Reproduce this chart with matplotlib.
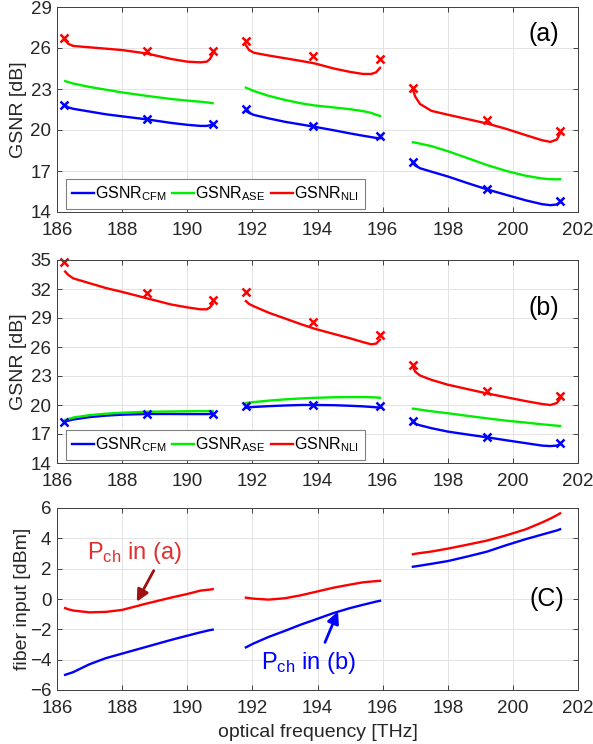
import numpy as np
import matplotlib
matplotlib.use("Agg")
import matplotlib.pyplot as plt

plt.rcParams["font.family"] = ["Liberation Sans", "DejaVu Sans"]

# frequency samples [THz] for the three bands
freq_s1 = [186.25, 186.35, 186.5, 187.0, 187.5, 188.0, 188.75, 189.5, 190.0, 190.4, 190.6, 190.7, 190.78]
freq_s2 = [191.8, 191.9, 192.05, 192.5, 193.0, 193.5, 193.9, 194.5, 195.0, 195.4, 195.65, 195.8, 195.92]
freq_s3 = [196.93, 197.0, 197.15, 197.5, 198.0, 198.6, 199.2, 199.8, 200.4, 200.9, 201.15, 201.35, 201.45]
FREQS = [freq_s1, freq_s2, freq_s3]

# panel (a) GSNR [dB]
a_cfm = [[21.8, 21.65, 21.55, 21.35, 21.15, 21.0, 20.78, 20.52, 20.38, 20.3, 20.3, 20.35, 20.43],
         [21.4, 21.25, 21.1, 20.85, 20.6, 20.4, 20.24, 19.98, 19.75, 19.58, 19.48, 19.42, 19.4],
         [17.6, 17.4, 17.2, 16.95, 16.6, 16.12, 15.66, 15.25, 14.85, 14.57, 14.5, 14.55, 14.72]]
a_ase = [[23.58, 23.5, 23.4, 23.15, 22.95, 22.75, 22.5, 22.27, 22.15, 22.07, 22.02, 21.99, 21.96],
         [23.1, 23.0, 22.85, 22.5, 22.2, 21.95, 21.8, 21.65, 21.52, 21.38, 21.25, 21.12, 21.03],
         [19.1, 19.08, 19.0, 18.82, 18.45, 17.95, 17.44, 17.0, 16.65, 16.45, 16.4, 16.39, 16.4]]
a_nli = [[26.55, 26.3, 26.15, 26.05, 25.95, 25.85, 25.6, 25.2, 25.0, 24.95, 25.0, 25.2, 25.55],
         [26.2, 25.85, 25.65, 25.45, 25.25, 25.05, 24.88, 24.5, 24.25, 24.1, 24.1, 24.22, 24.55],
         [22.95, 22.45, 21.9, 21.4, 21.12, 20.8, 20.48, 20.08, 19.62, 19.25, 19.13, 19.3, 19.75]]

# panel (b) GSNR [dB]
b_cfm = [[18.3, 18.38, 18.5, 18.75, 18.9, 19.0, 19.07, 19.07, 19.06, 19.06, 19.06, 19.07, 19.07],
         [19.72, 19.76, 19.8, 19.88, 19.95, 20.0, 20.0, 19.98, 19.92, 19.86, 19.8, 19.76, 19.73],
         [18.25, 18.05, 17.9, 17.6, 17.25, 16.95, 16.66, 16.35, 16.05, 15.8, 15.75, 15.8, 15.95]]
b_ase = [[18.45, 18.55, 18.7, 18.95, 19.1, 19.2, 19.3, 19.33, 19.35, 19.37, 19.37, 19.38, 19.38],
         [20.2, 20.25, 20.3, 20.45, 20.58, 20.68, 20.74, 20.8, 20.82, 20.82, 20.8, 20.78, 20.75],
         [19.62, 19.6, 19.52, 19.35, 19.15, 18.88, 18.62, 18.38, 18.18, 18.0, 17.92, 17.86, 17.83]]
b_nli = [[33.8, 33.45, 33.1, 32.6, 32.1, 31.7, 31.05, 30.4, 30.1, 29.9, 29.9, 30.1, 30.45],
         [30.75, 30.45, 30.2, 29.55, 28.95, 28.35, 27.9, 27.35, 26.9, 26.5, 26.28, 26.35, 26.75],
         [23.95, 23.45, 23.05, 22.6, 22.1, 21.65, 21.2, 20.8, 20.4, 20.1, 20.0, 20.2, 20.65]]

# measured points (x markers)
mk_freq = [186.22, 188.75, 190.78, 191.8, 193.87, 195.93, 196.93, 199.2, 201.46]
a_mk_cfm = [21.83, 20.78, 20.44, 21.51, 20.3, 19.58, 17.64, 15.7, 14.83]
a_mk_nli = [26.7, 25.8, 25.78, 26.54, 25.45, 25.17, 23.1, 20.74, 19.95]
b_mk_cfm = [18.24, 19.07, 19.07, 19.85, 20.0, 19.85, 18.31, 16.7, 16.1]
b_mk_nli = [34.83, 31.62, 30.85, 31.71, 28.6, 27.21, 24.14, 21.48, 20.97]

# panel (c) fiber input power [dBm]
c_pch_a = [[-0.6, -0.68, -0.76, -0.88, -0.85, -0.72, -0.3, 0.09, 0.33, 0.55, 0.6, 0.62, 0.65],
           [0.09, 0.06, 0.02, -0.04, 0.05, 0.25, 0.45, 0.75, 0.95, 1.1, 1.15, 1.18, 1.2],
           [2.95, 2.98, 3.03, 3.13, 3.32, 3.58, 3.85, 4.2, 4.6, 5.05, 5.3, 5.52, 5.65]]
c_pch_b = [[-5.0, -4.93, -4.82, -4.3, -3.9, -3.6, -3.15, -2.7, -2.42, -2.2, -2.1, -2.05, -2.02],
           [-3.19, -3.08, -2.92, -2.5, -2.1, -1.68, -1.38, -0.92, -0.6, -0.38, -0.25, -0.17, -0.12],
           [2.13, 2.15, 2.2, 2.32, 2.5, 2.8, 3.12, 3.55, 3.95, 4.25, 4.4, 4.52, 4.6]]

BLUE, GREEN, RED = "#0000ff", "#00ee00", "#ff0000"
TXT = "#262626"
LW = 1.7

fig = plt.figure(figsize=(5.93, 7.44), dpi=100)
L, W = 57 / 593, 521 / 593
ax_a = fig.add_axes([L, 1 - 212 / 744, W, 205 / 744])
ax_b = fig.add_axes([L, 1 - 463 / 744, W, 203 / 744])
ax_c = fig.add_axes([L, 1 - 690 / 744, W, 182 / 744])


def style(ax, ylim, yticks, ylabel):
    ax.set_xlim(186, 202)
    ax.set_xticks(np.arange(186, 203, 2))
    ax.set_ylim(*ylim)
    ax.set_yticks(yticks)
    ax.grid(True, color="#e3e3e3", lw=0.7)
    ax.set_axisbelow(True)
    ax.tick_params(direction="in", top=True, right=True, length=3.5, width=0.6,
                   labelsize=13.5, colors=TXT)
    ax.tick_params(axis="x", pad=7.5)
    ax.tick_params(axis="y", pad=4)
    for s in ax.spines.values():
        s.set_color("#404040")
        s.set_linewidth(0.7)
    ax.set_ylabel(ylabel, fontsize=14, color=TXT)


def gsnr_panel(ax, cfm, ase, nli, mk_cfm, mk_nli):
    for i, fx in enumerate(FREQS):
        ax.plot(fx, cfm[i], color=BLUE, lw=LW, label=r"$\mathregular{GSNR_{CFM}}$" if i == 0 else None)
        ax.plot(fx, ase[i], color=GREEN, lw=LW, label=r"$\mathregular{GSNR_{ASE}}$" if i == 0 else None)
        ax.plot(fx, nli[i], color=RED, lw=LW, label=r"$\mathregular{GSNR_{NLI}}$" if i == 0 else None)
    ax.plot(mk_freq, mk_cfm, ls="none", marker="x", ms=5.5, mew=1.8, color=BLUE, clip_on=False)
    ax.plot(mk_freq, mk_nli, ls="none", marker="x", ms=5.5, mew=1.8, color=RED, clip_on=False)
    leg = ax.legend(loc="lower left", bbox_to_anchor=(0.018, 0.015), ncol=3, fontsize=11.5,
                    frameon=True, fancybox=False, edgecolor="#808080", framealpha=1,
                    handlelength=1.35, handletextpad=0.1, columnspacing=0.35,
                    borderpad=0.35, borderaxespad=0)
    leg.get_frame().set_linewidth(0.8)


gsnr_panel(ax_a, a_cfm, a_ase, a_nli, a_mk_cfm, a_mk_nli)
style(ax_a, (14, 29), [14, 17, 20, 23, 26, 29], "GSNR [dB]")
ax_a.text(200.94, 27.0, "(a)", fontsize=18, ha="center", va="center", color="black")

gsnr_panel(ax_b, b_cfm, b_ase, b_nli, b_mk_cfm, b_mk_nli)
style(ax_b, (14, 35), [14, 17, 20, 23, 26, 29, 32, 35], "GSNR [dB]")
ax_b.text(200.94, 30.0, "(b)", fontsize=18, ha="center", va="center", color="black")

for i, fx in enumerate(FREQS):
    ax_c.plot(fx, c_pch_a[i], color=RED, lw=LW)
    ax_c.plot(fx, c_pch_b[i], color=BLUE, lw=LW)
style(ax_c, (-6, 6), np.arange(-6, 7, 2), "fiber input [dBm]")
ax_c.set_xlabel("optical frequency [THz]", fontsize=14, color=TXT, labelpad=5)
ax_c.text(201.04, 0.0, "(C)", fontsize=18, ha="center", va="center", color="black")

ax_c.text(186.93, 3.0, r"$\mathregular{P_{ch}}$ in (a)", fontsize=17, color="#e03030",
          ha="left", va="center")
ax_c.annotate("", xy=(188.45, -0.18), xytext=(188.97, 1.87),
              arrowprops=dict(arrowstyle="-|>,head_length=0.7,head_width=0.35",
                              color="#a01010", lw=2, shrinkA=0, shrinkB=0))
ax_c.text(192.25, -4.2, r"$\mathregular{P_{ch}}$ in (b)", fontsize=17, color=BLUE,
          ha="left", va="center")
ax_c.annotate("", xy=(194.63, -0.82), xytext=(194.23, -2.86),
              arrowprops=dict(arrowstyle="-|>,head_length=0.7,head_width=0.35",
                              color=BLUE, lw=2, shrinkA=0, shrinkB=0))

for ax in (ax_a, ax_b):
    ax.yaxis.set_label_coords(-0.058, 0.5)
ax_c.yaxis.set_label_coords(-0.05, 0.5)

fig.savefig("out.png", dpi=100)
